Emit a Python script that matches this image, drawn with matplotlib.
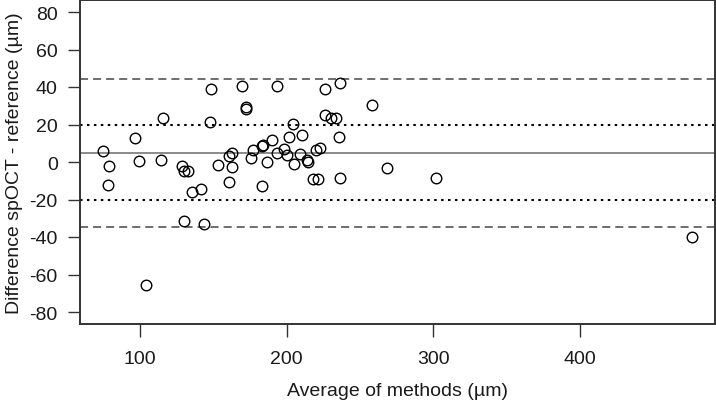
import matplotlib
matplotlib.use("Agg")
import matplotlib.pyplot as plt

# ── Bland-Altman data ───────────────────────────────────────────────────────
avg_methods = [74.8, 78.9, 78.0, 96.6, 99.1, 104.3, 114.3, 115.9, 128.6, 130.0,
               132.7, 130.2, 135.2, 141.3, 143.6, 147.9, 148.4, 153.2, 160.5, 162.5,
               162.9, 160.9, 169.3, 172.0, 172.3, 175.9, 176.8, 183.0, 184.0, 183.4,
               186.8, 190.2, 193.2, 193.6, 198.2, 200.0, 201.6, 204.1, 205.2, 209.1,
               210.2, 213.6, 214.3, 218.1, 221.5, 220.0, 222.7, 226.1, 226.1, 230.2,
               233.4, 235.4, 236.5, 236.5, 257.9, 268.2, 301.8, 476.0]
difference = [5.7, -2.0, -12.5, 12.6, 0.3, -65.8, 0.9, 23.6, -2.3, -4.8,
              -4.8, -31.3, -16.0, -14.6, -33.1, 21.5, 38.9, -1.8, 3.2, 5.0,
              -2.7, -10.9, 40.5, 29.3, 28.4, 2.1, 6.2, 8.5, 8.9, -13.0,
              0.2, 11.6, 4.8, 40.3, 7.1, 3.9, 13.3, 20.3, -0.9, 4.4,
              14.6, 0.9, 0.0, -8.9, -8.9, 6.2, 7.5, 38.7, 25.2, 23.6,
              23.6, 13.3, 41.9, -8.4, 30.2, -3.0, -8.4, -40.2]

mean_diff = 4.7
loa_upper = 44.1
loa_lower = -34.7
clinical_limits = [20, -20]

x_ticks = [100, 200, 300, 400]
y_ticks = [-80, -60, -40, -20, 0, 20, 40, 60, 80]

# ── Style ───────────────────────────────────────────────────────────────────
plt.rcParams.update({
    "font.family": ["Liberation Sans", "DejaVu Sans"],
    "font.size": 14,
    "axes.unicode_minus": False,
    "lines.scale_dashes": False,
})
FRAME = "#333333"
TEXT = "#1a1a1a"

fig = plt.figure(figsize=(7.16, 4.06), dpi=100)
ax = fig.add_axes([80 / 716, 81 / 406, 635 / 716, 324 / 406])

# reference lines
ax.axhline(mean_diff, color="#777777", lw=1.2)
for y in (loa_upper, loa_lower):
    ax.axhline(y, color="#555555", lw=1.2, dashes=(5.8, 3.6))
for y in clinical_limits:
    ax.axhline(y, color="black", lw=1.5, dashes=(1.8, 3.2))

# points
ax.plot(avg_methods, difference, "o", ms=7.6, mfc="none", mec="black", mew=1.0)

# ── Axes cosmetics ──────────────────────────────────────────────────────────
ax.set_xlim(59, 492)
ax.set_ylim(-86.4, 86.4)
ax.set_xticks(x_ticks)
ax.set_yticks(y_ticks)
for s in ax.spines.values():
    s.set_color(FRAME)
    s.set_linewidth(1.4)
ax.tick_params(axis="x", length=9, width=1.0, color=FRAME, pad=10,
               labelsize=14, labelcolor=TEXT)
ax.tick_params(axis="y", length=9, width=1.0, color=FRAME, pad=7,
               labelsize=14, labelcolor=TEXT)

ax.set_xlabel("Average of methods (µm)", fontsize=14, color=TEXT)
ax.set_ylabel("Difference spOCT - reference (µm)", fontsize=14, color=TEXT)
ax.xaxis.set_label_coords(0.5, -0.178)
ax.yaxis.set_label_coords(-0.089, 0.5)

fig.savefig("out.png", dpi=100)
